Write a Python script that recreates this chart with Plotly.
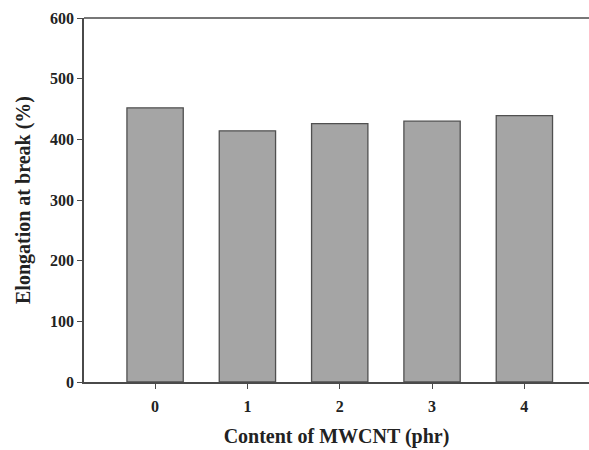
import plotly.graph_objects as go

content_phr = [0, 1, 2, 3, 4]
elongation = [452, 414, 426, 430, 439]
y_ticks = [0, 100, 200, 300, 400, 500, 600]

font_family = "Liberation Serif"
axis_color = "#4a4a4a"

fig = go.Figure(
    go.Bar(
        x=content_phr,
        y=elongation,
        width=0.61,
        marker=dict(color="#a5a5a5", line=dict(color="#505050", width=1.3)),
    )
)

fig.update_layout(
    width=589,
    height=450,
    margin=dict(l=84, r=0, t=18, b=68),
    paper_bgcolor="white",
    plot_bgcolor="white",
    showlegend=False,
    font=dict(family=font_family, color="#222222"),
    shapes=[
        dict(type="line", xref="paper", yref="paper", x0=0, x1=1, y0=1, y1=1,
             line=dict(color=axis_color, width=1.5)),
    ],
)

fig.update_xaxes(
    range=[-0.77, 4.70],
    tickvals=content_phr,
    ticktext=[f"<b>{v}</b>" for v in content_phr],
    tickfont=dict(size=16, family=font_family),
    ticks="outside",
    ticklen=5,
    ticklabelstandoff=4,
    tickcolor=axis_color,
    showline=True,
    linecolor=axis_color,
    linewidth=1.5,
    showgrid=False,
    zeroline=False,
    title=dict(text="<b>Content of MWCNT (phr)</b>", font=dict(size=20, family=font_family), standoff=15),
)

fig.update_yaxes(
    range=[0, 600],
    tickvals=y_ticks,
    ticktext=[f"<b>{v}</b>" for v in y_ticks],
    tickfont=dict(size=16, family=font_family),
    ticks="outside",
    ticklen=5,
    tickcolor=axis_color,
    showline=True,
    linecolor=axis_color,
    linewidth=1.5,
    showgrid=False,
    zeroline=False,
    title=dict(text="<b>Elongation at break (%)</b>", font=dict(size=20, family=font_family), standoff=14),
)

fig.write_html("out.html")
